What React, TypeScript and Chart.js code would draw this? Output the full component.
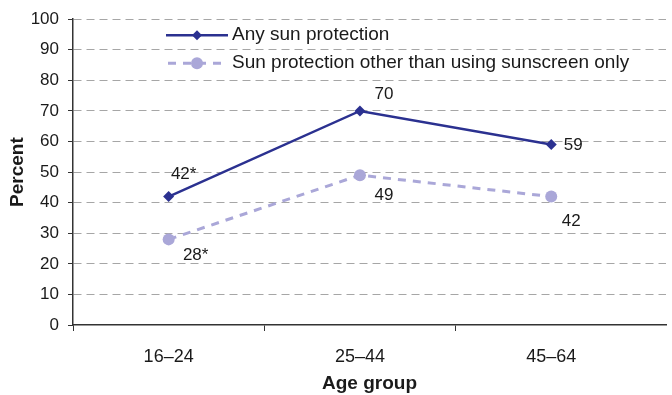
import React, { useEffect, useRef } from "react";
import { Chart, registerables } from "chart.js";

Chart.register(...registerables);

const categories = ["16–24", "25–44", "45–64"];
const anySun = [42, 70, 59];
const otherSun = [28, 49, 42];
const anyLabels = ["42*", "70", "59"];
const otherLabels = ["28*", "49", "42"];
const seriesNames = ["Any sun protection", "Sun protection other than using sunscreen only"];
const yTicks = [0, 10, 20, 30, 40, 50, 60, 70, 80, 90, 100];
const xTickValues = [-0.5, 0, 0.5, 1, 1.5, 2];

const NAVY = "#2B3190";
const LILAC = "#AAA7D8";
const FONT = "'Liberation Sans', Arial, sans-serif";
const TEXT = "#1a1a1a";

const labelOffsets = [
  [[15, -22], [24, -17], [22, 1]],
  [[27, 16], [24, 20], [20, 25]],
];

const dataLabelPlugin = {
  id: "dataLabels",
  afterDatasetsDraw(chart: any) {
    const ctx = chart.ctx;
    ctx.save();
    ctx.font = `17px ${FONT}`;
    ctx.fillStyle = TEXT;
    ctx.textAlign = "center";
    ctx.textBaseline = "middle";
    const texts = [anyLabels, otherLabels];
    chart.data.datasets.forEach((_: any, di: number) => {
      const meta = chart.getDatasetMeta(di);
      meta.data.forEach((pt: any, i: number) => {
        const [dx, dy] = labelOffsets[di][i];
        ctx.fillText(texts[di][i], pt.x + dx, pt.y + dy);
      });
    });
    ctx.restore();
  },
};

const legendPlugin = {
  id: "insideLegend",
  afterDraw(chart: any) {
    const ctx = chart.ctx;
    const a = chart.chartArea;
    const x0 = a.left + 93;
    const rows = [a.top + 16, a.top + 44];
    ctx.save();
    ctx.strokeStyle = NAVY;
    ctx.lineWidth = 2.5;
    ctx.setLineDash([]);
    ctx.beginPath();
    ctx.moveTo(x0, rows[0]);
    ctx.lineTo(x0 + 62, rows[0]);
    ctx.stroke();
    ctx.fillStyle = NAVY;
    const cx = x0 + 31;
    ctx.beginPath();
    ctx.moveTo(cx, rows[0] - 5);
    ctx.lineTo(cx + 5, rows[0]);
    ctx.lineTo(cx, rows[0] + 5);
    ctx.lineTo(cx - 5, rows[0]);
    ctx.closePath();
    ctx.fill();
    ctx.strokeStyle = LILAC;
    ctx.lineWidth = 3;
    ctx.setLineDash([8, 7]);
    ctx.beginPath();
    ctx.moveTo(x0 + 2, rows[1]);
    ctx.lineTo(x0 + 62, rows[1]);
    ctx.stroke();
    ctx.setLineDash([]);
    ctx.fillStyle = LILAC;
    ctx.beginPath();
    ctx.arc(cx, rows[1], 6, 0, Math.PI * 2);
    ctx.fill();
    ctx.font = `19px ${FONT}`;
    ctx.fillStyle = TEXT;
    ctx.textAlign = "left";
    ctx.textBaseline = "middle";
    ctx.fillText(seriesNames[0], x0 + 66, rows[0]);
    ctx.fillText(seriesNames[1], x0 + 66, rows[1]);
    ctx.restore();
  },
};

export default function App() {
  const ref = useRef<HTMLCanvasElement>(null);
  useEffect(() => {
    document.body.style.margin = "0";
    const chart = new Chart(ref.current as HTMLCanvasElement, {
      type: "line",
      data: {
        datasets: [
          {
            label: seriesNames[0],
            data: anySun.map((v, i) => ({ x: i, y: v })),
            borderColor: NAVY,
            backgroundColor: NAVY,
            borderWidth: 2.5,
            pointStyle: "rectRot",
            pointRadius: 5.5,
            pointBorderWidth: 0,
            tension: 0,
          },
          {
            label: seriesNames[1],
            data: otherSun.map((v, i) => ({ x: i, y: v })),
            borderColor: LILAC,
            backgroundColor: LILAC,
            borderWidth: 3,
            borderDash: [8, 7],
            pointStyle: "circle",
            pointRadius: 6,
            pointBorderWidth: 0,
            tension: 0,
          },
        ],
      },
      options: {
        animation: false,
        responsive: false,
        layout: { padding: { top: 18, right: 0, left: 0, bottom: 0 } },
        plugins: { legend: { display: false }, tooltip: { enabled: false } },
        scales: {
          x: {
            type: "linear",
            min: -0.5,
            max: 2.6,
            afterBuildTicks(axis: any) {
              axis.ticks = xTickValues.map((v) => ({ value: v }));
            },
            afterFit(scale: any) {
              scale.height = 70;
            },
            ticks: {
              autoSkip: false,
              maxRotation: 0,
              padding: 15,
              color: TEXT,
              font: { family: FONT, size: 18 },
              callback: (v: any) => (Number.isInteger(v) ? categories[v] : ""),
            },
            grid: {
              drawOnChartArea: false,
              tickLength: 6,
              tickColor: (c: any) => (c.tick && Number.isInteger(c.tick.value) ? "rgba(0,0,0,0)" : "#333"),
            },
            border: { color: "#333", width: 1.5 },
            title: {
              display: true,
              text: "Age group",
              color: TEXT,
              font: { family: FONT, size: 19, weight: "bold" },
              padding: { top: 3, bottom: 0 },
            },
          },
          y: {
            min: 0,
            max: 100,
            afterBuildTicks(axis: any) {
              axis.ticks = yTicks.map((v) => ({ value: v }));
            },
            afterFit(scale: any) {
              scale.width = 73;
            },
            ticks: {
              padding: 9,
              color: TEXT,
              font: { family: FONT, size: 17 },
            },
            grid: {
              color: (c: any) => (c.tick && c.tick.value === 0 ? "rgba(0,0,0,0)" : "#A6A6A6"),
              lineWidth: 1,
              tickLength: 5,
              tickColor: "#333",
            },
            border: { color: "#333", width: 1.5, dash: [8, 5] },
            title: {
              display: true,
              text: "Percent",
              color: TEXT,
              font: { family: FONT, size: 19, weight: "bold" },
              padding: { top: 6, bottom: 0 },
            },
          },
        },
      },
      plugins: [dataLabelPlugin, legendPlugin],
    } as any);
    return () => chart.destroy();
  }, []);
  return <canvas ref={ref} width={672} height={395} style={{ display: "block" }} />;
}
